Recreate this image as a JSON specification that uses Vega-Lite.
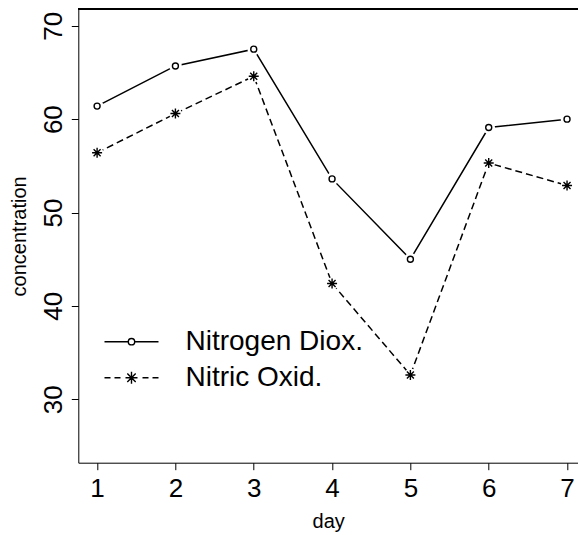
{
  "$schema": "https://vega.github.io/schema/vega-lite/v6.json",
  "width": 499.7,
  "height": 453.7,
  "autosize": {"type": "none"},
  "padding": {"left": 78.3, "top": 9, "right": 0, "bottom": 72.3},
  "background": "white",
  "config": {
    "view": {"stroke": null},
    "font": "Liberation Sans",
    "axis": {"grid": false, "domainColor": "black", "tickColor": "black", "labelColor": "black", "titleColor": "black", "titleFontWeight": "normal", "domainWidth": 1, "tickWidth": 1, "labelFont": "Liberation Sans", "titleFont": "Liberation Sans"}
  },
  "data": {"values": [
    {"day": 1, "series": "Nitrogen Diox.", "concentration": 61.4},
    {"day": 2, "series": "Nitrogen Diox.", "concentration": 65.7},
    {"day": 3, "series": "Nitrogen Diox.", "concentration": 67.5},
    {"day": 4, "series": "Nitrogen Diox.", "concentration": 53.6},
    {"day": 5, "series": "Nitrogen Diox.", "concentration": 45.0},
    {"day": 6, "series": "Nitrogen Diox.", "concentration": 59.1},
    {"day": 7, "series": "Nitrogen Diox.", "concentration": 60.0},
    {"day": 1, "series": "Nitric Oxid.", "concentration": 56.4},
    {"day": 2, "series": "Nitric Oxid.", "concentration": 60.6},
    {"day": 3, "series": "Nitric Oxid.", "concentration": 64.6},
    {"day": 4, "series": "Nitric Oxid.", "concentration": 42.4},
    {"day": 5, "series": "Nitric Oxid.", "concentration": 32.6},
    {"day": 6, "series": "Nitric Oxid.", "concentration": 55.3},
    {"day": 7, "series": "Nitric Oxid.", "concentration": 52.9}
  ]},
  "encoding": {
    "x": {"field": "day", "type": "quantitative",
      "scale": {"domain": [0.76, 7.14], "nice": false, "zero": false},
      "axis": {"values": [1, 2, 3, 4, 5, 6, 7], "tickSize": 7, "labelFontSize": 26, "labelBaseline": "alphabetic", "labelPadding": 26.3, "labelFlush": false, "labelOverlap": false, "title": "day", "titleFontSize": 20, "titleBaseline": "alphabetic", "titleY": 64.3}},
    "y": {"field": "concentration", "type": "quantitative",
      "scale": {"domain": [23.2, 71.8], "nice": false, "zero": false},
      "axis": {"values": [30, 40, 50, 60, 70], "tickSize": 7, "labelFontSize": 26, "labelAngle": -90, "labelAlign": "center", "labelBaseline": "alphabetic", "labelPadding": 9.5, "labelFlush": false, "labelOverlap": false, "title": "concentration", "titleFontSize": 20, "titleBaseline": "alphabetic", "titleX": -53.3}}
  },
  "layer": [
    {
      "mark": {"type": "rule", "color": "black", "strokeWidth": 1},
      "encoding": {"x": null, "y": {"datum": 71.8}}
    },
    {
      "transform": [{"filter": "datum.series === 'Nitrogen Diox.'"}],
      "mark": {"type": "line", "stroke": "black", "strokeWidth": 1.5}
    },
    {
      "transform": [{"filter": "datum.series === 'Nitric Oxid.'"}],
      "mark": {"type": "line", "stroke": "black", "strokeWidth": 1.5, "strokeDash": [7, 4]}
    },
    {
      "mark": {"type": "point", "filled": true, "fill": "white", "strokeWidth": 0, "size": 160, "shape": "circle", "opacity": 1}
    },
    {
      "mark": {"type": "point", "filled": false, "stroke": "black", "strokeWidth": 1.4, "size": 100, "opacity": 1},
      "encoding": {
        "shape": {"field": "series", "type": "nominal",
          "scale": {"domain": ["Nitrogen Diox.", "Nitric Oxid."],
            "range": ["M0.6,0A0.6,0.6 0 1,1 -0.6,0A0.6,0.6 0 1,1 0.6,0", "M-1,0H1M0,-1V1M-0.7,-0.7L0.7,0.7M-0.7,0.7L0.7,-0.7"]},
          "legend": null
        }
      }
    },
    {
      "transform": [{"filter": "false"}],
      "mark": {"type": "point", "filled": false, "stroke": "black", "strokeWidth": 1.4, "size": 400, "opacity": 1},
      "encoding": {
        "shape": {"field": "series", "type": "nominal",
          "scale": {"domain": ["Nitrogen Diox.", "Nitric Oxid."],
            "range": [
              "M-2.7,0H-0.32M0.32,0H2.7M0.32,0A0.32,0.32 0 1,1 -0.32,0A0.32,0.32 0 1,1 0.32,0",
              "M-2.7,0H-2.1M-1.7,0H-1.1M1.1,0H1.7M2.1,0H2.7M-0.6,0H0.6M0,-0.6V0.6M-0.42,-0.42L0.42,0.42M-0.42,0.42L0.42,-0.42"
            ]},
          "legend": {
            "orient": "none", "legendX": 39.2, "legendY": 318.7, "title": null,
            "labelFontSize": 28, "labelFont": "Liberation Sans", "labelColor": "black", "labelLimit": 0,
            "symbolSize": 400, "symbolStrokeColor": "black", "symbolStrokeWidth": 1.4, "symbolFillColor": "transparent", "symbolOpacity": 1,
            "labelOffset": 40, "rowPadding": 8, "padding": 0
          }
        }
      }
    }
  ],
  "resolve": {"scale": {"shape": "independent"}}
}
